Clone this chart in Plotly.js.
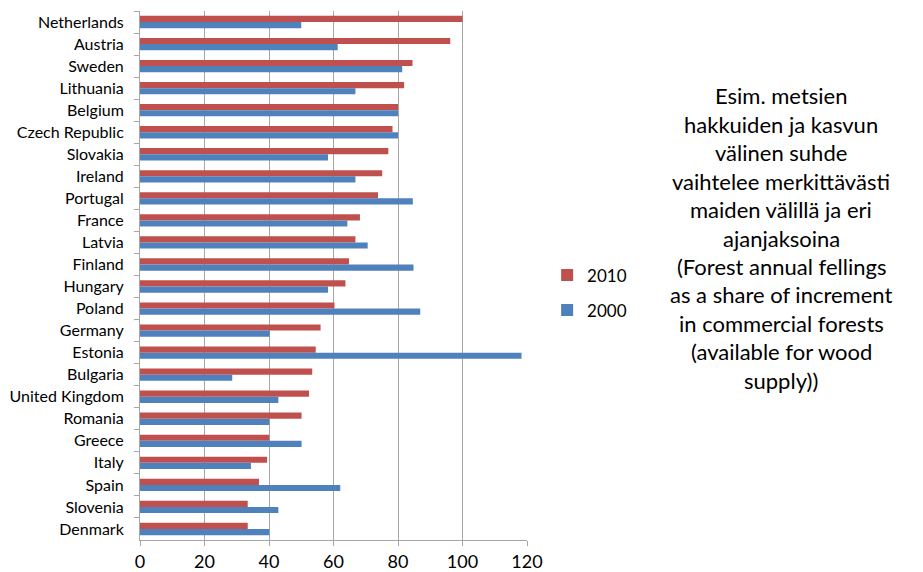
<!DOCTYPE html>
<html>
<head>
<meta charset="utf-8">
<script src="https://cdn.plot.ly/plotly-3.0.1.min.js"></script>
<style>html,body{margin:0;padding:0;background:#fff;}#chart{width:923px;height:572px;}</style>
</head>
<body>
<div id="chart"></div>
<script>
const countries = ["Netherlands","Austria","Sweden","Lithuania","Belgium","Czech Republic","Slovakia","Ireland","Portugal","France","Latvia","Finland","Hungary","Poland","Germany","Estonia","Bulgaria","United Kingdom","Romania","Greece","Italy","Spain","Slovenia","Denmark"];
const values2010 = [100,96.2,84.5,81.9,80,78.3,77,75.1,73.8,68.2,66.8,64.8,63.7,60.3,56,54.5,53.4,52.4,50.1,40.1,39.4,36.9,33.4,33.4];
const values2000 = [50,61.3,81.3,66.8,80,80,58.3,66.8,84.6,64.3,70.6,84.8,58.3,86.9,40.2,118.3,28.6,42.9,40.1,50.1,34.4,62.1,42.9,40.1];
const seriesNames = ["2010","2000"];
const xTicks = [0,20,40,60,80,100,120];
const noteLines = ["Esim. metsien","hakkuiden ja kasvun","välinen suhde","vaihtelee merkittävästi","maiden välillä ja eri","ajanjaksoina","(Forest annual fellings","as a share of increment","in commercial forests","(available for wood","supply))"];

const FONT = "Lato, 'Open Sans', sans-serif";
const traces = [
  {type:"bar", orientation:"h", name:seriesNames[0], y:countries, x:values2010,
   marker:{color:"#C0504D"}, legendgroup:"a"},
  {type:"bar", orientation:"h", name:seriesNames[1], y:countries, x:values2000,
   marker:{color:"#4F81BD"}, legendgroup:"b"}
];

// annotation lines: centered at x=782px, first line center y=96px, spacing 28.4px
const plotL = 140, plotR = 527.5, plotT = 11, plotB = 540;
const annotations = noteLines.map((t,i) => ({
  text: t, showarrow:false, xref:"paper", yref:"paper",
  x: (782 - plotL)/(plotR - plotL), y: (plotB - (96 + i*28.4))/(plotB - plotT),
  xanchor:"center", yanchor:"middle",
  font:{family:FONT, size:22, color:"#000"}
}));

const layout = {
  width:923, height:572,
  margin:{l:plotL, r:923-plotR, t:plotT, b:572-plotB, pad:0},
  paper_bgcolor:"#fff", plot_bgcolor:"#fff",
  barmode:"group", bargap:0.44, bargroupgap:0,
  font:{family:FONT, color:"#000"},
  xaxis:{range:[0,120], tickvals:xTicks, showgrid:true, gridcolor:"#a6a6a6", gridwidth:1,
         zeroline:false, showline:true, linecolor:"#a6a6a6", linewidth:1,
         ticks:"outside", ticklen:5, tickcolor:"#a6a6a6",
         tickfont:{family:FONT, size:18, color:"#000"}, fixedrange:true},
  yaxis:{autorange:"reversed", type:"category", showgrid:false, zeroline:false,
         showline:true, linecolor:"#a6a6a6", linewidth:1,
         ticks:"outside", ticklen:5, tickcolor:"#a6a6a6", tickson:"boundaries",
         ticklabelstandoff:12,
         tickfont:{family:FONT, size:16, color:"#000"}, fixedrange:true},
  legend:{x:1.052, y:0.467, xanchor:"left", yanchor:"middle", traceorder:"grouped",
          tracegroupgap:10, font:{family:FONT, size:17, color:"#000"}, bgcolor:"rgba(0,0,0,0)"},
  showlegend:true,
  annotations: annotations
};

Plotly.newPlot("chart", traces, layout, {displayModeBar:false, staticPlot:true});
</script>
</body>
</html>
